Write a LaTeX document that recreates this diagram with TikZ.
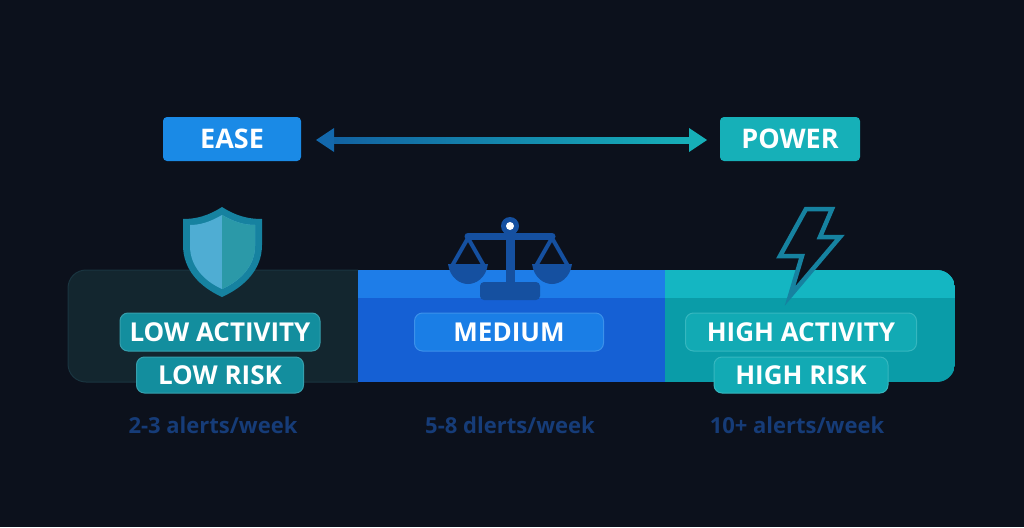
\documentclass[tikz,border=0pt]{standalone}
\usepackage{fontspec}
\setmainfont{Open Sans}
\usetikzlibrary{arrows.meta}
\definecolor{bg}{HTML}{0C111C}
\definecolor{easec}{HTML}{1A8AE6}
\definecolor{powc}{HTML}{16B0B8}
\definecolor{lowbar}{HTML}{13262F}
\definecolor{lowtop}{HTML}{1A3540}
\definecolor{medbar}{HTML}{1560D4}
\definecolor{medtop}{HTML}{1E7DE8}
\definecolor{hibar}{HTML}{0A9CA8}
\definecolor{hitop}{HTML}{14B6C2}
\definecolor{lowlab}{HTML}{138E9E}
\definecolor{medlab}{HTML}{1A7EE6}
\definecolor{hilab}{HTML}{12AAB4}
\definecolor{foot}{HTML}{163C78}
\definecolor{scalec}{HTML}{1550A0}
\definecolor{boltc}{HTML}{1682A0}
\begin{document}
\begin{tikzpicture}[x=1pt,y=-1pt,
  top/.style={rounded corners=4pt,text=white,font=\fontsize{27}{30}\selectfont\bfseries,inner sep=0pt,minimum height=44pt,minimum width=138pt},
  lab/.style={rounded corners=8pt,text=white,font=\fontsize{26}{28}\selectfont\bfseries,inner sep=0pt,minimum height=38pt,draw=white!15!#1,line width=1pt,fill=#1},
  foottxt/.style={text=foot,font=\fontsize{22}{24}\selectfont\bfseries}]
\fill[bg] (0,0) rectangle (1024,527);
\node[top,fill=easec] (ease) at (232,139) {EASE};
\node[top,fill=powc,minimum width=140pt] (power) at (790,139) {POWER};
\coordinate (al) at (316,140); \coordinate (ar) at (707,140);
\shade[left color=easec!70!black,right color=powc] (325,137) rectangle (695,143);
\fill[easec!75!black] (al) -- ++(18,-12) -- ++(0,24) -- cycle;
\fill[powc] (ar) -- ++(-18,-12) -- ++(0,24) -- cycle;
% bar
\begin{scope}
\clip[rounded corners=18pt] (68,270) rectangle (955,382);
\fill[lowbar] (68,270) rectangle (358,382);
\fill[medbar] (358,270) rectangle (665,382);
\fill[medtop] (358,270) rectangle (665,298);
\fill[hibar] (665,270) rectangle (955,382);
\fill[hitop] (665,270) rectangle (955,298);
\end{scope}
\draw[lowtop,line width=1pt,rounded corners=18pt] (358,270) -- (68,270) -- (68,382) -- (358,382);
% labels
\node[lab=lowlab,minimum width=200pt] (lowa) at (220,332) {LOW ACTIVITY};
\node[lab=lowlab,minimum width=167pt,minimum height=36pt] (lowr) at (220,375) {LOW RISK};
\node[lab=medlab,minimum width=189pt] (med) at (509,332) {MEDIUM};
\node[lab=hilab,minimum width=231pt] (hia) at (801,332) {HIGH ACTIVITY};
\node[lab=hilab,minimum width=174pt,minimum height=36pt] (hir) at (801,375) {HIGH RISK};
\node[foottxt] (f1) at (213,425) {2-3 alerts/week};
\node[foottxt] (f2) at (510,425) {5-8 dlerts/week};
\node[foottxt] (f3) at (797,425) {10+ alerts/week};
% shield
\fill[boltc] (222,207) .. controls (208,216) and (196,219) .. (183,219) -- (183,245) .. controls (183,270) and (200,287) .. (222,297) .. controls (244,287) and (262,270) .. (262,245) -- (262,219) .. controls (248,219) and (236,216) .. (222,207) -- cycle;
\fill[cyan!60!teal!80!white] (222,215) .. controls (210,222) and (200,225) .. (190,225) -- (190,246) .. controls (190,266) and (204,281) .. (222,289) .. controls (240,281) and (255,266) .. (255,246) -- (255,225) .. controls (244,225) and (234,222) .. (222,215) -- cycle;
\fill[lowlab!90!white] (222,215) .. controls (234,222) and (244,225) .. (255,225) -- (255,246) .. controls (255,266) and (240,281) .. (222,289) -- cycle;
% scales
\begin{scope}[draw=scalec,line cap=round,line join=round]
\draw[line width=7pt] (468,236) -- (552,236);
\draw[line width=9pt] (510,230) -- (510,286);
\fill[scalec,rounded corners=4pt] (480,282) rectangle (540,300);
\draw[line width=4pt] (468,238) -- (452,266) (468,238) -- (484,266) (552,238) -- (536,266) (552,238) -- (568,266);
\fill[scalec] (448,264) -- (488,264) .. controls (486,278) and (476,284) .. (468,284) .. controls (460,284) and (450,278) .. (448,264) -- cycle;
\fill[scalec] (532,264) -- (572,264) .. controls (570,278) and (560,284) .. (552,284) .. controls (544,284) and (534,278) .. (532,264) -- cycle;
\end{scope}
\fill[scalec] (510,226) circle (9);
\fill[white] (510,226) circle (4);
% bolt
\draw[boltc,line width=4.5pt,line join=miter,fill=bg] (806,209) -- (832,209) -- (820,237) -- (840,237) -- (790,296) -- (802,256) -- (780,256) -- cycle;
\end{tikzpicture}
\end{document}
